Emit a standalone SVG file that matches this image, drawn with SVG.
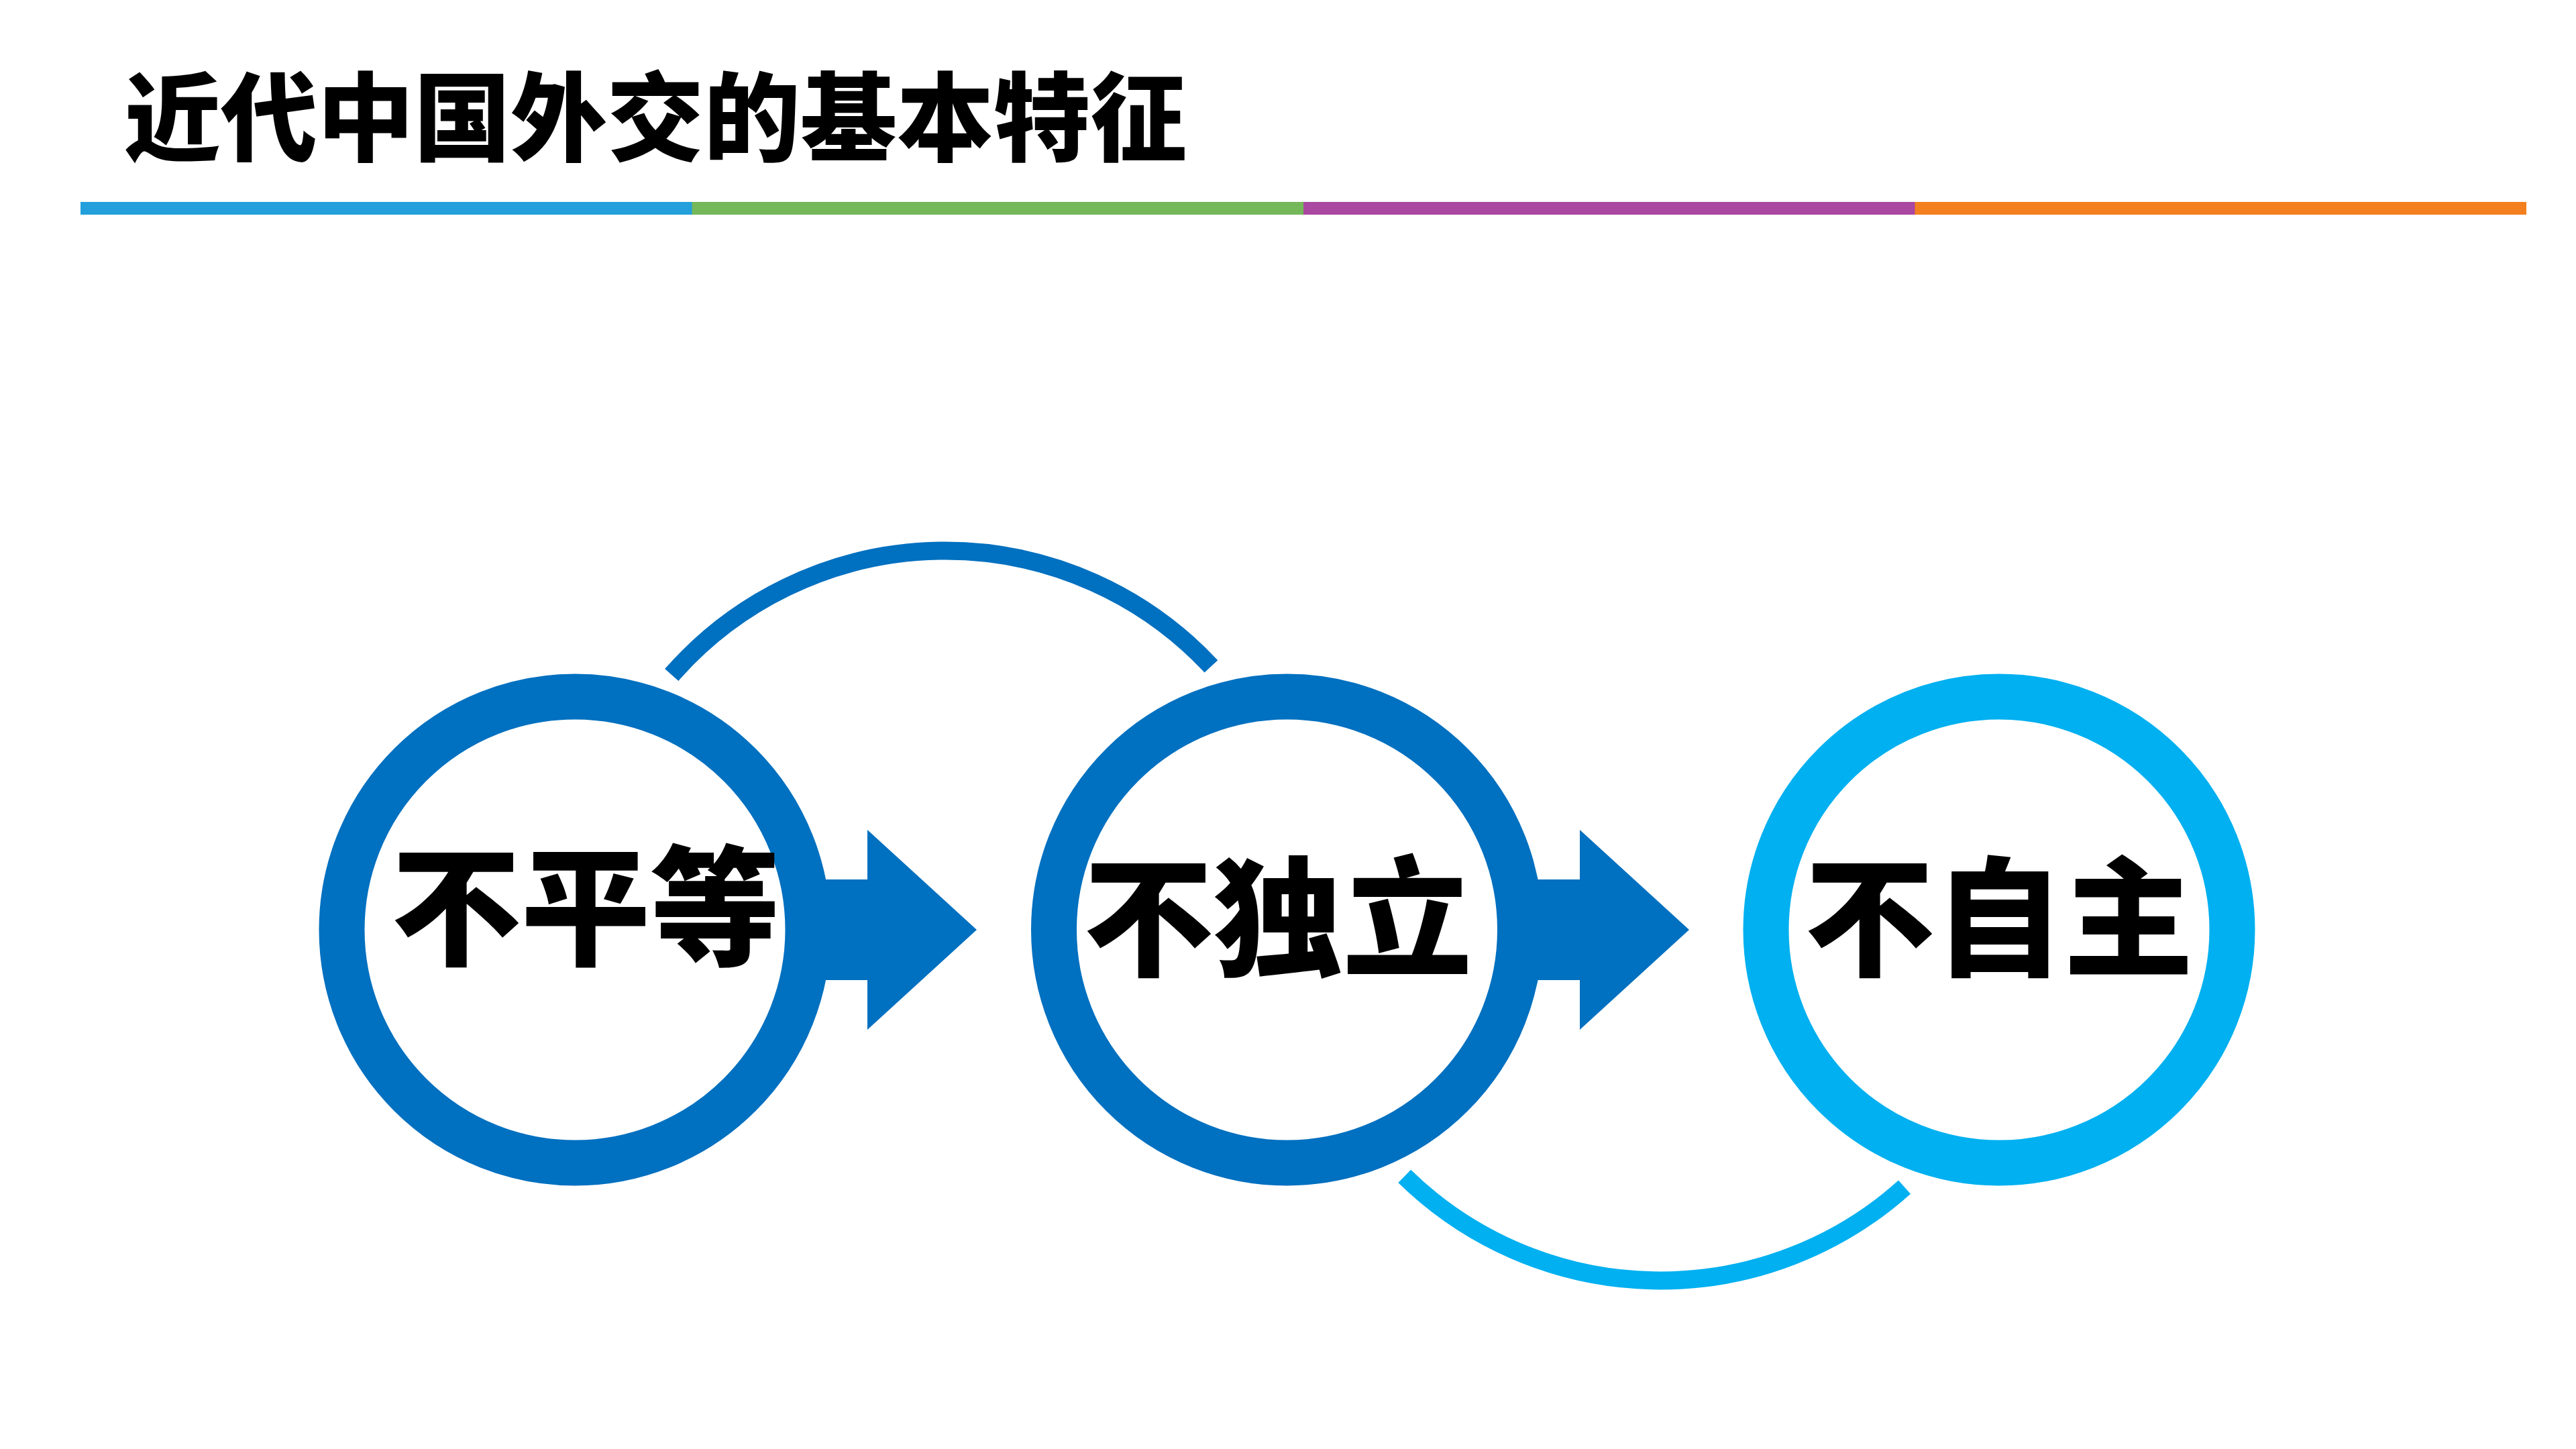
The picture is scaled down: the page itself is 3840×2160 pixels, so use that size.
<svg xmlns="http://www.w3.org/2000/svg" width="3840" height="2160" viewBox="0 0 3840 2160">
  <style>
    .title { font-family: "Noto Sans CJK SC", "Noto Sans CJK TC", sans-serif; font-weight: 900; font-size: 144px; fill: #000000; }
    .label { font-family: "Noto Sans CJK SC", "Noto Sans CJK TC", sans-serif; font-weight: 900; font-size: 193px; fill: #000000; text-anchor: middle; }
    .ring { fill: #FFFFFF; stroke-width: 68; }
    .dark { stroke: #0070C0; }
    .light { stroke: #00B0F0; }
    .arc { fill: none; stroke-width: 27; stroke-linecap: butt; }
    .block { fill: #0070C0; }
  </style>
  <rect x="0" y="0" width="3840" height="2160" fill="#FFFFFF"/>

  <g id="header">
    <text class="title" x="185" y="229">近代中国外交的基本特征</text>
    <rect x="120" y="301" width="912" height="19" fill="#23A0DC"/>
    <rect x="1031.5" y="301" width="912" height="19" fill="#74B85A"/>
    <rect x="1943" y="301" width="912" height="19" fill="#AA47A0"/>
    <rect x="2854.5" y="301" width="911.5" height="19" fill="#F47F1E"/>
  </g>

  <g id="connectors">
    <polygon class="block" points="1200,1311 1293,1311 1293,1237 1456,1386 1293,1535 1293,1461 1200,1461"/>
    <polygon class="block" points="2262,1311 2355,1311 2355,1237 2518,1386 2355,1535 2355,1461 2262,1461"/>
    <path class="arc dark" d="M 1001.2 1006 A 542 542 0 0 1 1805.4 993.4"/>
    <path class="arc light" d="M 2093.7 1753.4 A 545 545 0 0 0 2839 1769.6"/>
  </g>

  <g id="node-buping">
    <circle class="ring dark" cx="857" cy="1386" r="347.5"/>
    <text class="label" x="873" y="1424">不平等</text>
  </g>

  <g id="node-budu">
    <circle class="ring dark" cx="1918.5" cy="1386" r="347.5"/>
    <text class="label" x="1905" y="1440">不独立</text>
  </g>

  <g id="node-buzi">
    <circle class="ring light" cx="2980" cy="1386" r="347.5"/>
    <text class="label" x="2980" y="1440">不自主</text>
  </g>
</svg>
